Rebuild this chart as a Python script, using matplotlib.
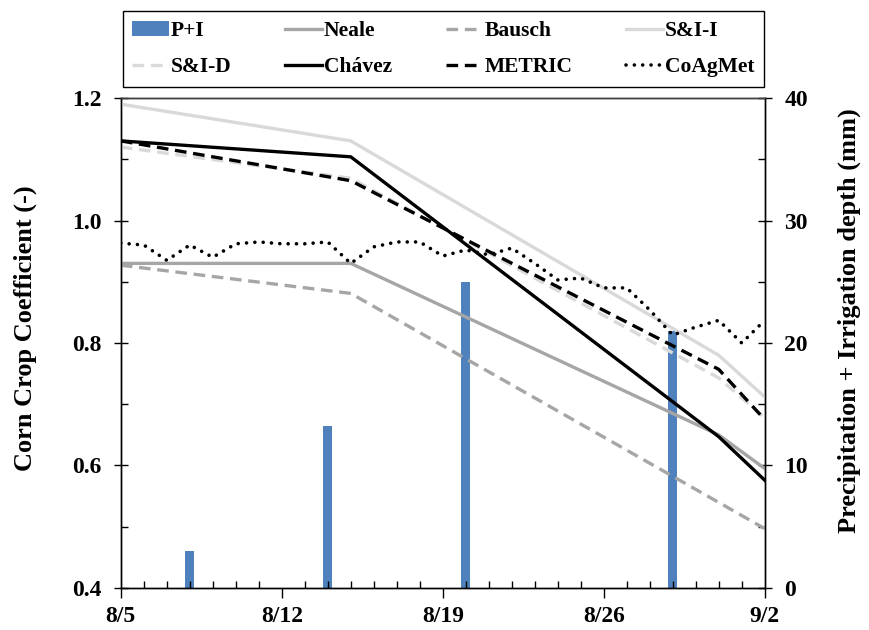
import numpy as np
import matplotlib as mpl
mpl.use('Agg')
import matplotlib.pyplot as plt
from matplotlib.ticker import MultipleLocator

plt.rcParams['font.family'] = ['Liberation Serif', 'DejaVu Serif']
plt.rcParams['font.weight'] = 'bold'

# days after 8/5
date_labels = ["8/5", "8/12", "8/19", "8/26", "9/2"]
date_ticks = [0, 7, 14, 21, 28]

# precipitation + irrigation (mm)
pi_days = [3, 9, 15, 24]
pi_mm = [3.0, 13.2, 25.0, 21.0]

# crop coefficient curves (knot days, values)
knot_days = [0, 10, 26, 28]
neale = [0.93, 0.93, 0.65, 0.595]
sii = [1.19, 1.13, 0.78, 0.712]
sid = [1.12, 1.069, 0.743, 0.678]
chavez = [1.13, 1.104, 0.647, 0.576]
metric = [1.13, 1.065, 0.757, 0.675]
bausch_days = [0, 10, 28]
bausch = [0.927, 0.881, 0.497]

coag_days = list(range(29))
coagmet = [0.963, 0.960, 0.935, 0.960, 0.940, 0.962, 0.965, 0.962, 0.962, 0.965,
           0.930, 0.957, 0.965, 0.965, 0.942, 0.952, 0.944, 0.955, 0.930, 0.903,
           0.906, 0.890, 0.890, 0.854, 0.813, 0.826, 0.837, 0.800, 0.837]

fig = plt.figure(figsize=(8.69, 6.3), dpi=100)
ax = fig.add_axes([0.139, 0.0667, 0.741, 0.7777])
ax2 = ax.twinx()
ax.set_zorder(ax2.get_zorder() + 1)
ax.patch.set_visible(False)

b = ax2.bar(pi_days, pi_mm, width=0.38, color='#4F81BD', label='P+I')

lw = 2.4
l_neale, = ax.plot(knot_days, neale, color='#A6A6A6', lw=lw, label='Neale')
l_bausch, = ax.plot(bausch_days, bausch, color='#A6A6A6', lw=lw, dashes=(3.5, 2), label='Bausch')
l_sii, = ax.plot(knot_days, sii, color='#D9D9D9', lw=lw, label='S&I-I')
l_sid, = ax.plot(knot_days, sid, color='#D9D9D9', lw=lw, dashes=(3.5, 2), label='S&I-D')
l_ch, = ax.plot(knot_days, chavez, color='black', lw=lw, label='Chávez')
l_me, = ax.plot(knot_days, metric, color='black', lw=lw, dashes=(3.5, 2), label='METRIC')
l_co, = ax.plot(coag_days, coagmet, color='black', lw=2.6, dashes=(0.01, 2.3),
                dash_capstyle='round', label='CoAgMet')

ax.set_xlim(0, 28)
ax.set_ylim(0.4, 1.2)
ax2.set_ylim(0, 40)

ax.set_xticks(date_ticks)
ax.set_xticklabels(date_labels)
ax.xaxis.set_minor_locator(MultipleLocator(1))
ax.yaxis.set_major_locator(MultipleLocator(0.2))
ax.yaxis.set_minor_locator(MultipleLocator(0.1))
ax.yaxis.set_major_formatter(mpl.ticker.FormatStrFormatter('%.1f'))
ax2.yaxis.set_major_locator(MultipleLocator(10))
ax2.yaxis.set_minor_locator(MultipleLocator(5))

for a in (ax, ax2):
    a.tick_params(which='major', direction='inout', length=10, width=1, labelsize=17, pad=9)
    a.tick_params(which='minor', direction='in', length=5, width=1)
    for s in a.spines.values():
        s.set_linewidth(1)
ax.tick_params(axis='x', which='major', direction='out', length=7, pad=6)
ax.spines['top'].set_color('#404040')

ax.set_ylabel('Corn Crop Coefficient (-)', fontsize=19, fontweight='bold')
ax2.set_ylabel('Precipitation + Irrigation depth (mm)', fontsize=19, fontweight='bold')
ax.yaxis.set_label_coords(-0.13, 0.53)
ax2.yaxis.set_label_coords(1.113, 0.545)

# legend filled column by column, so reorder to get rows as in the original
handles = [b, l_sid, l_neale, l_ch, l_bausch, l_me, l_sii, l_co]
leg = fig.legend(handles=handles, labels=[h.get_label() for h in handles],
                 ncol=4, loc='lower left', bbox_to_anchor=(0.141, 0.862, 0.738, 0.13),
                 mode='expand', handlelength=1.7, handletextpad=0.1,
                 borderaxespad=0, borderpad=0.45, fancybox=False, edgecolor='black',
                 framealpha=1, prop={'weight': 'bold', 'size': 15.5}, labelspacing=0.75)
leg.get_frame().set_linewidth(1)

fig.savefig('out.png', dpi=100)
